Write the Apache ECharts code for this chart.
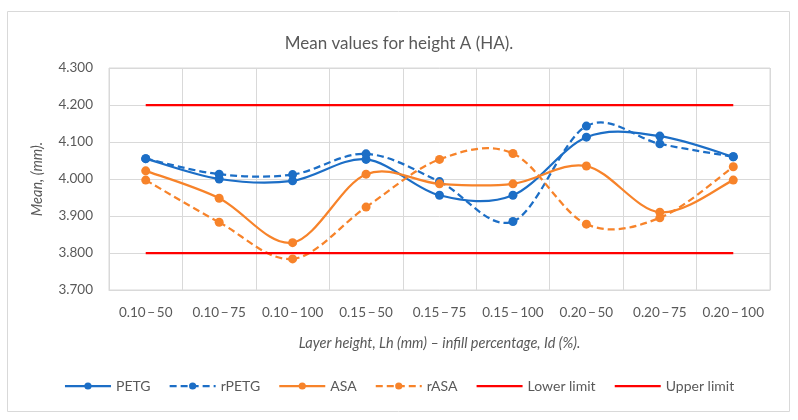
<!DOCTYPE html>
<html>
<head>
<meta charset="utf-8">
<script src="https://cdn.jsdelivr.net/npm/echarts@6/dist/echarts.min.js"></script>
<style>html,body{margin:0;padding:0;background:#fff}#c{width:798px;height:420px}</style>
</head>
<body>
<div id="c"></div>
<script>
const categories = ['0.10\u2009\u2212\u200950','0.10\u2009\u2212\u200975','0.10\u2009\u2212\u2009100','0.15\u2009\u2212\u200950','0.15\u2009\u2212\u200975','0.15\u2009\u2212\u2009100','0.20\u2009\u2212\u200950','0.20\u2009\u2212\u200975','0.20\u2009\u2212\u2009100'];
const petg  = [4.055, 4.000, 3.995, 4.053, 3.956, 3.956, 4.113, 4.116, 4.060];
const rpetg = [4.055, 4.013, 4.012, 4.068, 3.993, 3.885, 4.143, 4.095, 4.060];
const asa   = [4.022, 3.948, 3.828, 4.013, 3.987, 3.987, 4.035, 3.910, 3.997];
const rasa  = [3.997, 3.883, 3.784, 3.924, 4.053, 4.069, 3.878, 3.895, 4.033];
const lowerLimit = [3.8, 3.8, 3.8, 3.8, 3.8, 3.8, 3.8, 3.8, 3.8];
const upperLimit = [4.2, 4.2, 4.2, 4.2, 4.2, 4.2, 4.2, 4.2, 4.2];
const yTicks = {min: 3.7, max: 4.3, interval: 0.1};

const BLUE = '#1C6EC6', ORANGE = '#F7832A', RED = '#FF0000', TXT = '#595959';
const FONT = 'Lato';
const DASH = [7, 4];

// Markers + legend entry (line hidden; drawn by the smooth curve below)
function markerSeries(name, data, color, dashed) {
  return {
    name, type: 'line', data,
    symbol: 'circle', symbolSize: 9, z: 3,
    itemStyle: {color},
    lineStyle: {color, width: 0, type: dashed ? DASH : 'solid'}
  };
}
// Excel-like smoothed curve (Catmull-Rom Bezier) through the axis coordinates
function curveSeries(values, color, dashed) {
  return {
    type: 'custom', coordinateSystem: 'cartesian2d', z: 2, silent: true,
    data: [[0, values[0]]],
    renderItem: function (params, api) {
      const p = values.map((v, i) => api.coord([i, v]));
      const n = p.length, children = [];
      for (let i = 0; i < n - 1; i++) {
        const p0 = p[Math.max(i - 1, 0)], p1 = p[i], p2 = p[i + 1], p3 = p[Math.min(i + 2, n - 1)];
        children.push({
          type: 'bezierCurve',
          shape: {
            x1: p1[0], y1: p1[1], x2: p2[0], y2: p2[1],
            cpx1: p1[0] + (p2[0] - p0[0]) / 6, cpy1: p1[1] + (p2[1] - p0[1]) / 6,
            cpx2: p2[0] - (p3[0] - p1[0]) / 6, cpy2: p2[1] - (p3[1] - p1[1]) / 6
          },
          style: {fill: null, stroke: color, lineWidth: 2.25, lineDash: dashed ? DASH : null}
        });
      }
      return {type: 'group', children};
    }
  };
}
function limitSeries(name, data) {
  return {
    name, type: 'line', data, symbol: 'none',
    itemStyle: {color: RED},
    lineStyle: {color: RED, width: 2.25}
  };
}

const chart = echarts.init(document.getElementById('c'), null, {renderer: 'canvas'});
chart.setOption({
  animation: false,
  textStyle: {fontFamily: FONT, color: TXT},
  graphic: [{type: 'rect', shape: {x: 7.5, y: 11.5, width: 782, height: 400}, style: {fill: 'none', stroke: '#D9D9D9', lineWidth: 1}, z: -1}],
  title: {
    text: 'Mean values for height A (HA).',
    left: 'center', top: 30,
    textStyle: {fontFamily: FONT, fontSize: 17, fontWeight: 'normal', color: TXT}
  },
  legend: {
    bottom: 22, left: 'center',
    itemWidth: 46, itemHeight: 9, itemGap: 18,
    lineStyle: {width: 2.25},
    textStyle: {fontFamily: FONT, fontSize: 14, color: TXT},
    data: ['PETG', 'rPETG', 'ASA', 'rASA',
           {name: 'Lower limit', itemStyle: {opacity: 0}},
           {name: 'Upper limit', itemStyle: {opacity: 0}}]
  },
  grid: {left: 109, right: 28, top: 68, bottom: 130, show: true, borderColor: '#D9D9D9', borderWidth: 1},
  xAxis: {
    type: 'category', data: categories, boundaryGap: true,
    axisLine: {show: true, lineStyle: {color: '#D9D9D9'}},
    axisTick: {show: false},
    splitLine: {show: true, lineStyle: {color: '#D9D9D9'}},
    axisLabel: {fontFamily: FONT, fontSize: 13.5, color: TXT, margin: 16, interval: 0},
    name: 'Layer height, Lh (mm) \u2013 infill percentage, Id (%).',
    nameLocation: 'middle', nameGap: 46,
    nameTextStyle: {fontFamily: FONT, fontSize: 14.5, fontStyle: 'italic', color: TXT}
  },
  yAxis: {
    type: 'value', min: yTicks.min, max: yTicks.max, interval: yTicks.interval,
    axisLine: {show: false}, axisTick: {show: false},
    splitLine: {show: true, lineStyle: {color: '#D9D9D9'}},
    axisLabel: {fontFamily: FONT, fontSize: 13.5, color: TXT, margin: 16, formatter: v => v.toFixed(3)},
    name: 'Mean, (mm).', nameLocation: 'middle', nameGap: 64,
    nameTextStyle: {fontFamily: FONT, fontSize: 14.5, fontStyle: 'italic', color: TXT}
  },
  series: [
    limitSeries('Lower limit', lowerLimit),
    limitSeries('Upper limit', upperLimit),
    curveSeries(petg, BLUE, false),
    curveSeries(rpetg, BLUE, true),
    curveSeries(asa, ORANGE, false),
    curveSeries(rasa, ORANGE, true),
    markerSeries('PETG', petg, BLUE, false),
    markerSeries('rPETG', rpetg, BLUE, true),
    markerSeries('ASA', asa, ORANGE, false),
    markerSeries('rASA', rasa, ORANGE, true)
  ]
});
</script>
</body>
</html>
